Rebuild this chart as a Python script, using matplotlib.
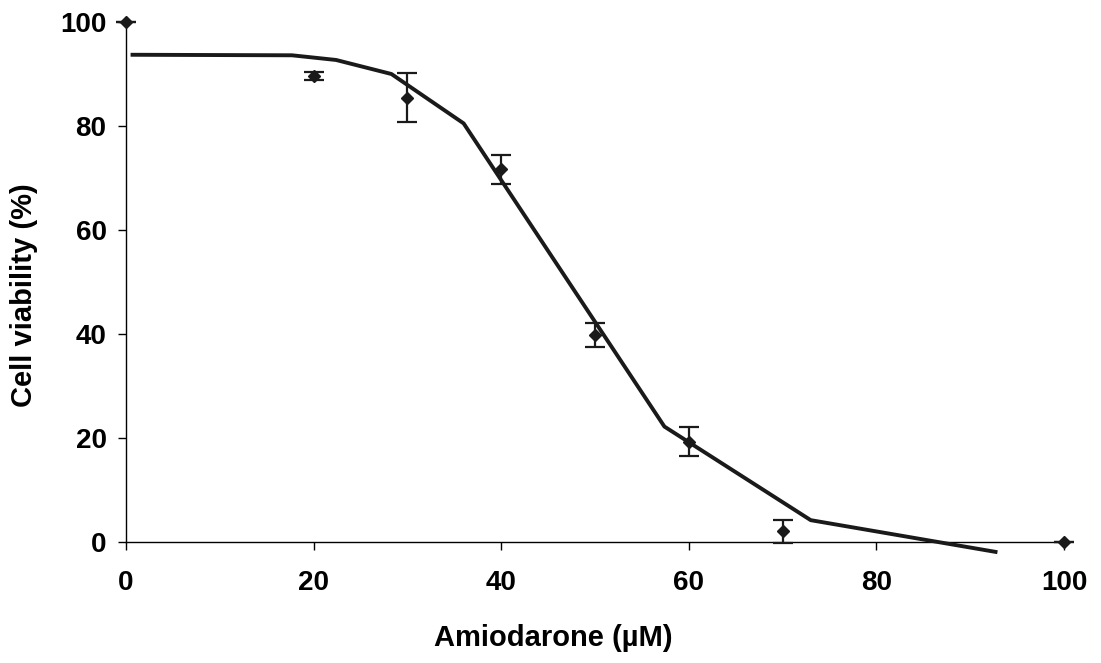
import matplotlib; matplotlib.use("Agg")
import matplotlib.pyplot as plt

plt.rcParams["font.family"] = ["Liberation Sans", "DejaVu Sans"]

# measured points (mean ± sd)
conc = [0, 20, 30, 40, 50, 60, 70, 100]
viab = [100, 89.6, 85.4, 71.7, 39.8, 19.3, 2.1, 0]
err = [0, 0.7, 4.7, 2.8, 2.3, 2.8, 2.2, 0]

# fitted curve (polyline)
fit_x = [0.7, 17.7, 22.4, 28.3, 36.0, 57.4, 73.0, 92.7]
fit_y = [93.7, 93.6, 92.7, 90.0, 80.5, 22.2, 4.2, -1.9]

fig = plt.figure(figsize=(11.01, 6.63), dpi=100)
ax = fig.add_axes([0.1144, 0.1825, 0.852, 0.7843])

ax.plot(fit_x, fit_y, color="#1a1a1a", lw=2.8, clip_on=False, zorder=3)
ax.errorbar(conc, viab, yerr=err, fmt="D", color="#1a1a1a", ms=6, elinewidth=1.6,
            capsize=7, capthick=1.6, clip_on=False, zorder=4)

ax.set_xlim(0, 100); ax.set_ylim(0, 100)
ax.set_xticks(range(0, 101, 20)); ax.set_yticks(range(0, 101, 20))
for s in ("top", "right"):
    ax.spines[s].set_visible(False)
for s in ("left", "bottom"):
    ax.spines[s].set_linewidth(1.0)
ax.tick_params(direction="out", length=6, width=1, labelsize=20)
ax.yaxis.set_tick_params(pad=8)
ax.xaxis.set_tick_params(pad=14)
for lab in ax.get_xticklabels() + ax.get_yticklabels():
    lab.set_fontweight("bold")

ax.set_xlabel("Amiodarone (µM)", fontsize=21, fontweight="bold")
ax.set_ylabel("Cell viability (%)", fontsize=21, fontweight="bold")
ax.xaxis.set_label_coords(0.456, -0.158)
ax.yaxis.set_label_coords(-0.094, 0.475)

fig.savefig("out.png", dpi=100)
